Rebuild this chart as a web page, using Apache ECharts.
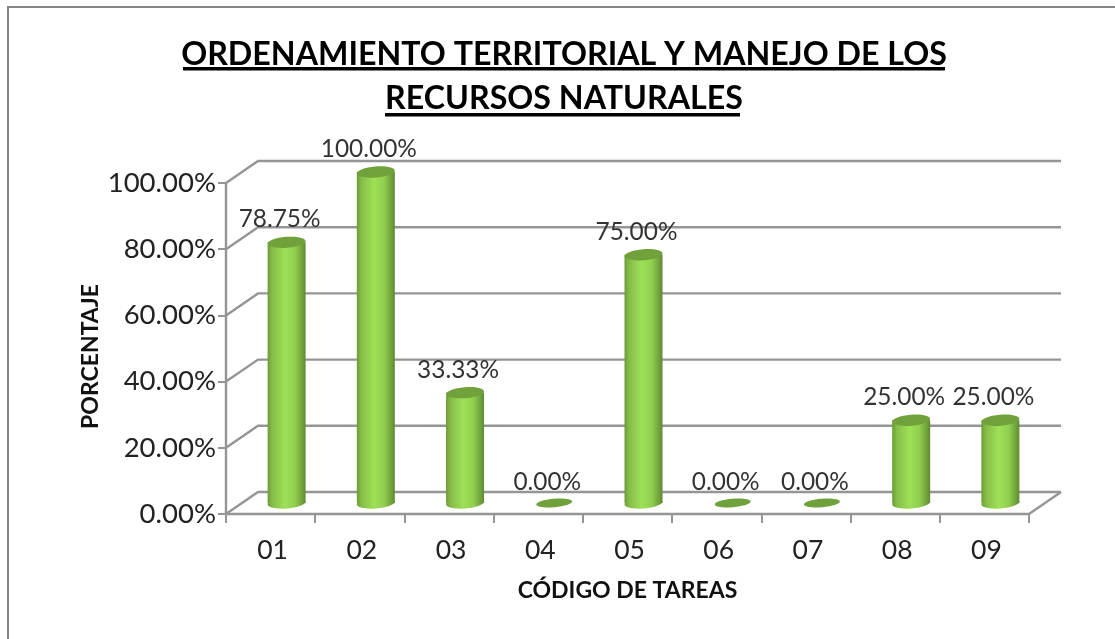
<!DOCTYPE html>
<html><head><meta charset="utf-8">
<style>html,body{margin:0;padding:0;background:#fff}#c{width:1115px;height:639px}</style>
<script src="https://cdn.jsdelivr.net/npm/echarts@6/dist/echarts.min.js"></script>
</head><body><div id="c"></div>
<script>
const categories = ['01','02','03','04','05','06','07','08','09'];
const values = [78.75,100,33.33,0,75,0,0,25,25];
const yTicks = [0,20,40,60,80,100];
const titleLine1 = 'ORDENAMIENTO TERRITORIAL Y MANEJO DE LOS';
const titleLine2 = 'RECURSOS NATURALES';
const xName = 'CÓDIGO DE TAREAS';
const yName = 'PORCENTAJE';

const FONT = 'Lato';
const DX = 32, DY = 22;
const GRID = '#959595';
const bodyFill = new echarts.graphic.LinearGradient(0,0,1,0,[
  {offset:0,color:'#6b9b38'},{offset:0.12,color:'#86bd48'},{offset:0.45,color:'#9ee057'},
  {offset:0.72,color:'#90cf4e'},{offset:0.92,color:'#6f9f3a'},{offset:1,color:'#5f8a32'}]);

function renderGrid(params, api){
  const v = api.value(0), cs = params.coordSys;
  const y = api.coord([0,v])[1];
  const l = cs.x, r = cs.x+cs.width;
  const style = {stroke:GRID,lineWidth:2.4,fill:null};
  const children = [{type:'polyline',shape:{points:[[l,y],[l+DX,y-DY],[r+DX,y-DY]]},style}];
  if(v===0) children.push({type:'polyline',shape:{points:[[r,y],[r+DX,y-DY]]},style});
  return {type:'group',children};
}
function renderBar(params, api){
  const idx = api.value(0), v = api.value(1);
  const top = api.coord([idx,v]), base = api.coord([idx,0]);
  const cx = top[0]+DX/2, ty = top[1]-DY/2, by = base[1]-DY/2;
  const rx = 19, ry = 5.5, rot = 0.08;
  const kids = [];
  if(v>0){
    kids.push({type:'ellipse',shape:{cx,cy:by,rx,ry},originX:cx,originY:by,rotation:rot,style:{fill:bodyFill}});
    kids.push({type:'rect',shape:{x:cx-rx,y:ty,width:rx*2,height:by-ty},style:{fill:bodyFill}});
  }
  kids.push({type:'ellipse',shape:{cx,cy:ty,rx:v>0?rx:18,ry:v>0?ry:4.2},originX:cx,originY:ty,rotation:rot,style:{fill:'#70a13a'}});
  kids.push({type:'text',style:{text:v.toFixed(2)+'%',x:cx-7,y:ty-(v>0?23:21),align:'center',verticalAlign:'middle',
    font:'24.4px '+FONT,fill:'#333'}});
  return {type:'group',children:kids};
}

const chart = echarts.init(document.getElementById('c'));
chart.setOption({
  animation:false,
  backgroundColor:'#fff',
  title:{text:titleLine1+'\n'+titleLine2,left:559,top:28,textAlign:'center',
    textStyle:{fontFamily:FONT,fontWeight:'bold',fontSize:32.2,color:'#000',lineHeight:44}},
  grid:{left:226,right:86,top:183,bottom:125},
  xAxis:{type:'category',data:categories,name:xName,nameLocation:'middle',nameGap:65,
    nameTextStyle:{fontFamily:FONT,fontWeight:'bold',fontSize:23,color:'#111'},
    axisLine:{lineStyle:{color:GRID,width:2.4}},
    axisTick:{show:true,length:9,alignWithLabel:false,lineStyle:{color:GRID,width:2}},
    axisLabel:{fontFamily:FONT,fontSize:26.5,color:'#222',margin:23,padding:[0,0,0,4]},splitLine:{show:false}},
  yAxis:{type:'value',min:0,max:100,interval:20,name:yName,nameLocation:'middle',nameGap:124,nameMoveOverlap:false,
    nameTextStyle:{fontFamily:FONT,fontWeight:'bold',fontSize:23,color:'#111',padding:[0,16,0,0]},
    axisLine:{show:true,lineStyle:{color:GRID,width:2.4}},
    axisTick:{show:true,length:8,lineStyle:{color:GRID,width:2}},
    axisLabel:{fontFamily:FONT,fontSize:27.5,color:'#222',margin:10,formatter:v=>v.toFixed(2)+'%'},
    splitLine:{show:false}},
  series:[
    {type:'custom',name:'grid',coordinateSystem:'cartesian2d',z:1,silent:true,clip:false,
      encode:{y:0},data:yTicks.map(v=>[v]),renderItem:renderGrid},
    {type:'custom',name:'Porcentaje',coordinateSystem:'cartesian2d',z:3,clip:false,
      encode:{x:0,y:1},data:values.map((v,i)=>[i,v]),renderItem:renderBar}
  ],
  graphic:[
    {type:'polyline',z:0,shape:{points:[[8,639],[8,7],[1115,7]]},style:{stroke:'#868686',lineWidth:2,fill:null}},
    {type:'rect',z:5,shape:{x:183,y:67,width:762,height:3.5},style:{fill:'#000'}},
    {type:'rect',z:5,shape:{x:385,y:113,width:355,height:3.5},style:{fill:'#000'}}
  ]
});
</script></body></html>
